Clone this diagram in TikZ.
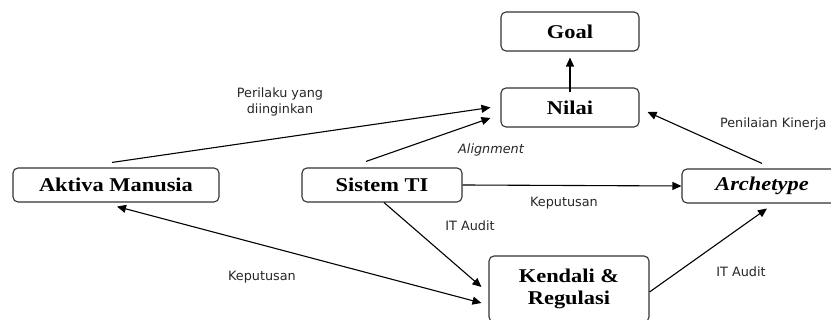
\documentclass[tikz,border=0pt]{standalone}
\usepackage{fontspec}
\newfontfamily\lbl{DejaVu Sans}
\newfontfamily\boxfont{Liberation Serif}[FakeStretch=1.15]
\usetikzlibrary{arrows.meta,calc}
\begin{document}
\begin{tikzpicture}[x=1pt,y=1pt,
  box/.style={draw=black!80,line width=1.1pt,rounded corners=5pt,fill=white,inner sep=0pt,font=\boxfont\fontsize{19.5}{23}\selectfont\bfseries,align=center},
  conn/.style={line width=1.1pt,-{Triangle[length=9pt,width=8pt]}},
  lab/.style={font=\lbl\fontsize{12.8}{16}\selectfont,text=black!85,align=center}]
\useasboundingbox (0,0) rectangle (831,320);
\begin{scope}
\clip (0,0) rectangle (831,320);
\node[box,minimum width=138pt,minimum height=39pt] (goal) at (570,288.5) {Goal};
\node[box,minimum width=138pt,minimum height=39pt] (nilai) at (570,212.5) {Nilai};
\node[box,minimum width=206pt,minimum height=34pt] (aktiva) at (116,135) {Aktiva Manusia};
\node[box,minimum width=160pt,minimum height=34pt] (sistem) at (382,135) {Sistem TI};
\node[box,minimum width=160pt,minimum height=34pt] (arch) at (762,134) {\itshape Archetype};
\node[box,minimum width=160pt,minimum height=66pt] (kendali) at (569,31) {Kendali \&\\[-1pt]Regulasi};

\coordinate (nL1) at ($(nilai.west)+(-10,0)$);
\coordinate (nL2) at ($(nilai.west)+(-10,-10.5)$);
\coordinate (nR) at ($(nilai.east)+(8,-4.5)$);
\coordinate (sTop) at ($(sistem.north)+(-16,6)$);
\coordinate (archTop) at ($(arch.north)+(0,5)$);
\coordinate (sBot) at ($(sistem.south)+(2,0)$);
\coordinate (kL1) at ($(kendali.west)+(-7,2)$);
\coordinate (kL2) at ($(kendali.west)+(-7,-14)$);
\coordinate (aBot) at ($(aktiva.south)+(1,-4)$);
\coordinate (kR) at ($(kendali.east)+(0,-3)$);
\coordinate (archBot) at ($(arch.south)+(5,-5)$);

\draw[conn] (aktiva.north) ++(-4,5) -- (nL1);
\draw[conn] (sTop) -- (nL2);
\draw[conn] (nilai.north) ++(0,-5) -- ($(goal.south)+(0,-6)$);
\draw[conn] (archTop) -- (nR);
\draw[conn] (sistem.east) -- (arch.west);
\draw[conn] (sBot) -- (kL1);
\draw[line width=1.1pt,{Triangle[length=9pt,width=8pt]}-{Triangle[length=9pt,width=8pt]}] (aBot) -- (kL2);
\draw[conn] (kR) -- (archBot);

\node[lab] (l1) at (280,218) {Perilaku yang\\diinginkan};
\node[lab] (l2) at (491,170) {\itshape Alignment};
\node[lab,anchor=east] (l3) at (830,196) {Penilaian Kinerja};
\node[lab] (l4) at (564,117) {Keputusan};
\node[lab] (l5) at (470,94) {IT Audit};
\node[lab] (l6) at (262,43) {Keputusan};
\node[lab] (l7) at (741,48) {IT Audit};
\end{scope}
\end{tikzpicture}
\end{document}
